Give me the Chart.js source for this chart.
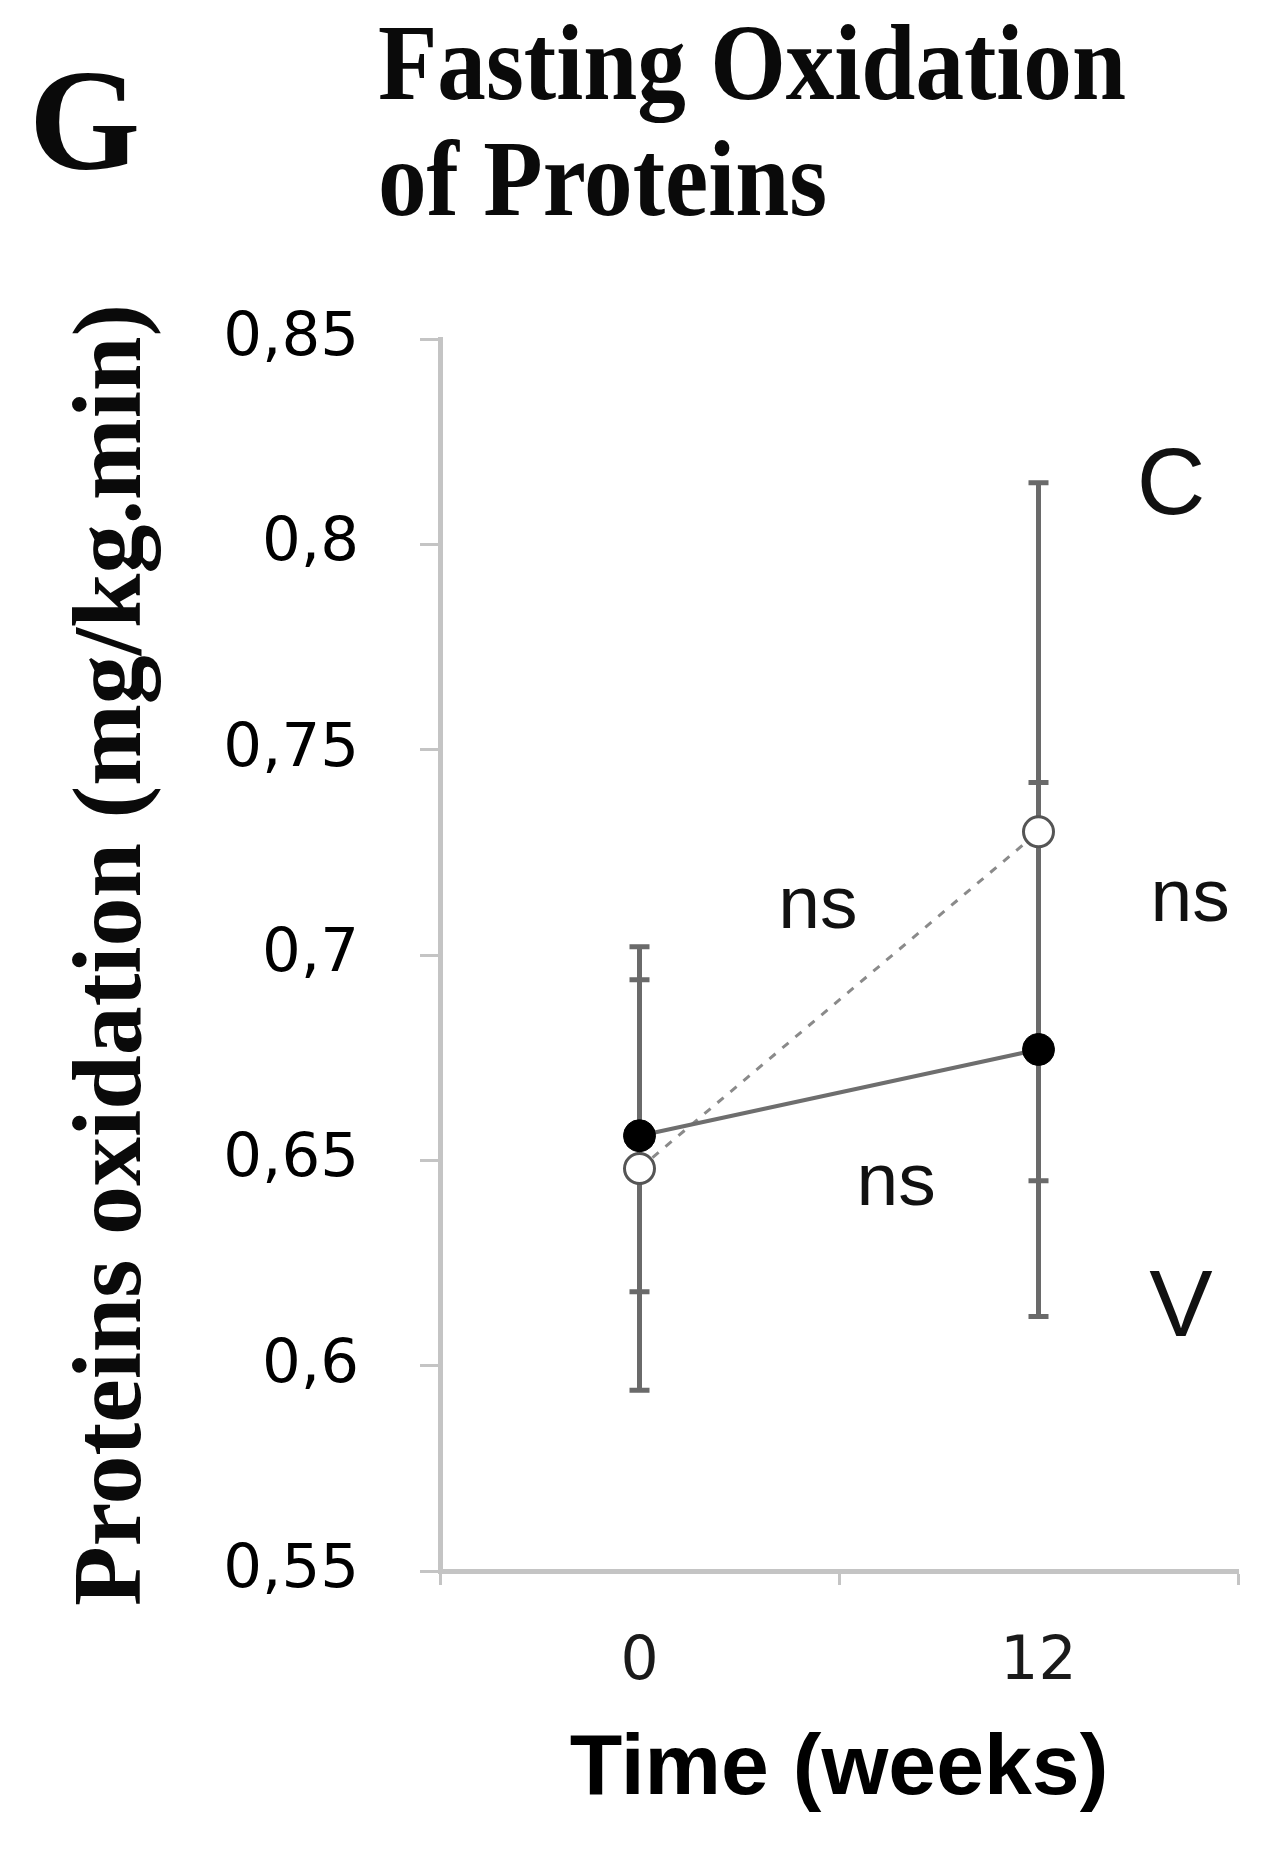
<!DOCTYPE html>
<html>
<head>
<meta charset="utf-8">
<script src="https://cdn.jsdelivr.net/npm/chart.js@4"></script>
<style>
  html, body { margin: 0; padding: 0; background: #fff; }
  #wrap { position: relative; width: 1273px; height: 1851px; overflow: hidden; }
  canvas { position: absolute; left: 0; top: 0; }
  .t { position: absolute; font-family: "Liberation Serif", "Times New Roman", serif; font-weight: bold; color: #0a0a0a; line-height: 1; white-space: nowrap; transform-origin: 0 0; }
</style>
</head>
<body>
<div id="wrap">
  <canvas id="c" width="1273" height="1851"></canvas>
  <div class="t" style="left:29px; top:50px; font-size:143px;">G</div>
  <div class="t" style="left:378px; top:9px; font-size:108px; transform:scaleX(0.9);">Fasting Oxidation</div>
  <div class="t" style="left:378px; top:125px; font-size:108px; transform:scaleX(0.9);">of Proteins</div>
</div>
<script>
// ---- data ----
const categories = ['0', '12'];
const seriesNames = ['V', 'C'];
const vMeans = [0.656, 0.677];
const vErrors = [0.038, 0.065];
const cMeans = [0.648, 0.730];
const cErrors = [0.054, 0.085];
const yTickLabels = ['0,55', '0,6', '0,65', '0,7', '0,75', '0,8', '0,85'];
const annotationTexts = ['C', 'V', 'ns', 'ns', 'ns'];

// annotation placement (category index, value), kept separate from data
const annotationPlaces = [
  { x: 1.332, y: 0.8137, size: 95 },
  { x: 1.357, y: 0.6136, size: 95 },
  { x: 0.447, y: 0.7117, size: 75 },
  { x: 1.380, y: 0.7134, size: 75 },
  { x: 0.643, y: 0.6442, size: 75 }
];

const errorBarPlugin = {
  id: 'errorBars',
  beforeDatasetsDraw(chart) {
    const ctx = chart.ctx;
    const xs = chart.scales.x, ys = chart.scales.y;
    const sets = [[vMeans, vErrors], [cMeans, cErrors]];
    ctx.save();
    ctx.strokeStyle = '#6a6a6a';
    ctx.lineWidth = 5;
    sets.forEach(([m, e]) => {
      m.forEach((v, i) => {
        const px = xs.getPixelForValue(i);
        const top = ys.getPixelForValue(v + e[i]);
        const bot = ys.getPixelForValue(v - e[i]);
        ctx.beginPath();
        ctx.moveTo(px, top); ctx.lineTo(px, bot);
        ctx.moveTo(px - 10, top); ctx.lineTo(px + 10, top);
        ctx.moveTo(px - 10, bot); ctx.lineTo(px + 10, bot);
        ctx.stroke();
      });
    });
    ctx.restore();
  }
};

const annotationPlugin = {
  id: 'annots',
  afterDatasetsDraw(chart) {
    const ctx = chart.ctx;
    const xs = chart.scales.x, ys = chart.scales.y;
    ctx.save();
    ctx.fillStyle = '#111';
    ctx.textAlign = 'center';
    ctx.textBaseline = 'middle';
    annotationTexts.forEach((t, i) => {
      const p = annotationPlaces[i];
      ctx.font = p.size + 'px "Liberation Sans", Arial, sans-serif';
      ctx.fillText(t, xs.getPixelForValue(p.x), ys.getPixelForValue(p.y));
    });
    ctx.restore();
  }
};

new Chart(document.getElementById('c'), {
  type: 'line',
  data: {
    labels: categories,
    datasets: [
      {
        label: seriesNames[0],
        data: vMeans,
        borderColor: '#6e6e6e',
        borderWidth: 4,
        pointRadius: 16,
        pointBackgroundColor: '#000',
        pointBorderColor: '#000',
        pointBorderWidth: 1,
        tension: 0
      },
      {
        label: seriesNames[1],
        data: cMeans,
        borderColor: '#8a8a8a',
        borderWidth: 3,
        borderDash: [8, 9],
        pointRadius: 15,
        pointBackgroundColor: '#fff',
        pointBorderColor: '#555',
        pointBorderWidth: 3,
        tension: 0
      }
    ]
  },
  options: {
    responsive: false,
    animation: false,
    events: [],
    layout: { padding: { top: 339, right: 35, left: 0, bottom: 0 } },
    plugins: { legend: { display: false }, tooltip: { enabled: false }, title: { display: false } },
    scales: {
      x: {
        type: 'category',
        offset: true,
        afterFit: (s) => { s.height = 280; },
        grid: { drawOnChartArea: false, drawTicks: true, tickLength: 14, tickColor: '#c4c4c4', tickWidth: 3, offset: true },
        border: { display: true, color: '#c4c4c4', width: 5 },
        ticks: { color: '#1a1a1a', padding: 42, font: { family: 'DejaVu Sans', size: 60 } },
        title: {
          display: true,
          text: 'Time (weeks)',
          color: '#000',
          font: { family: '"Liberation Sans", Arial, sans-serif', size: 86, weight: 'bold' },
          padding: { top: 0, bottom: 29 }
        }
      },
      y: {
        min: 0.55,
        max: 0.85,
        afterFit: (s) => { s.width = 440; },
        ticks: {
          stepSize: 0.05,
          color: '#000',
          padding: 61,
          font: { family: 'DejaVu Sans', size: 61 },
          callback: (v, i) => yTickLabels[i]
        },
        grid: { drawOnChartArea: false, drawTicks: true, tickLength: 20, tickColor: '#c4c4c4', tickWidth: 3 },
        border: { display: true, color: '#c4c4c4', width: 5 },
        title: {
          display: true,
          text: 'Proteins oxidation (mg/kg.min)',
          color: '#0a0a0a',
          font: { family: '"Liberation Serif", "Times New Roman", serif', size: 98, weight: 'bold' },
          padding: { top: 56, bottom: 0 }
        }
      }
    }
  },
  plugins: [errorBarPlugin, annotationPlugin]
});
</script>
</body>
</html>
